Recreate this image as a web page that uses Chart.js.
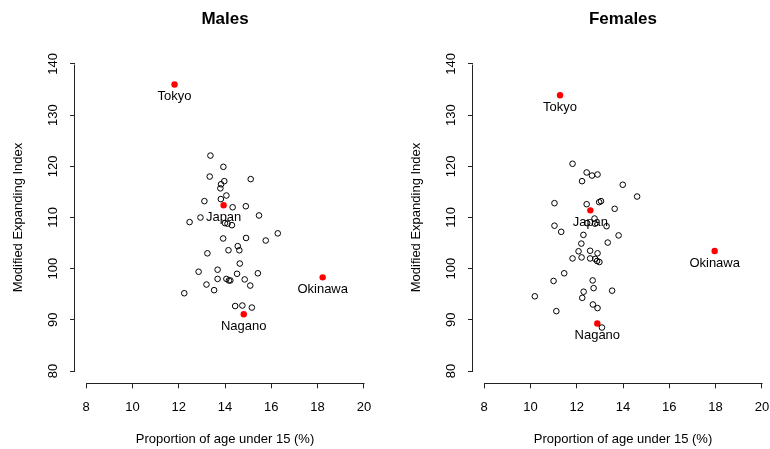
<!DOCTYPE html>
<html><head><meta charset="utf-8">
<script src="https://cdn.jsdelivr.net/npm/chart.js@4"></script>
<style>
html,body{margin:0;padding:0;background:#fff;overflow:hidden;width:770px;height:449px;position:relative}
#m{position:absolute;left:0;top:0}
#f{position:absolute;left:398px;top:0}
</style></head><body>
<canvas id="m" width="385" height="449"></canvas>
<canvas id="f" width="385" height="449"></canvas>
<script>
const xTicks=[8,10,12,14,16,18,20];
const yTicks=[80,90,100,110,120,130,140];
const xTitle='Proportion of age under 15 (%)';
const yTitle='Modified Expanding Index';

const maleX=[13.37,13.93,13.34,15.11,13.97,13.83,13.80,14.06,13.82,13.11,14.33,14.90,15.47,12.94,12.47,14.00,14.11,14.30,16.28,13.92,14.91,15.76,14.55,14.15,14.62,13.24,14.64,12.86,13.68,14.52,15.42,13.68,14.06,14.17,14.23,14.85,13.20,15.09,13.53,12.24,14.44,14.75,15.16];
const maleY=[122.1,119.9,118.0,117.5,117.1,116.5,115.7,114.3,113.6,113.2,112.0,112.2,110.4,110.0,109.1,108.9,108.8,108.5,106.9,105.9,106.0,105.5,104.4,103.6,103.6,103.0,101.0,99.4,99.8,99.0,99.1,98.0,98.0,97.7,97.7,97.9,96.9,96.7,95.8,95.2,92.7,92.8,92.4];
const maleNames=['Tokyo','Japan','Okinawa','Nagano'];
const maleHX=[11.82,13.94,18.22,14.81];
const maleHY=[136.0,112.4,98.3,91.1];

const femaleX=[11.82,12.43,12.66,12.90,12.23,13.99,14.61,11.04,12.43,12.97,13.05,13.64,12.77,12.79,12.45,13.29,11.04,11.33,12.29,13.81,12.20,13.34,12.08,12.58,12.90,11.82,12.21,12.58,12.80,12.88,12.98,11.46,11.00,12.69,12.30,12.73,13.53,12.24,10.19,12.70,12.90,11.12,13.09];
const femaleY=[120.5,118.8,118.2,118.4,117.1,116.4,114.1,112.8,112.6,113.0,113.2,111.7,109.8,108.8,108.9,108.3,108.4,107.2,106.6,106.5,104.9,105.1,103.4,103.5,103.0,102.0,102.2,102.0,101.9,101.5,101.3,99.1,97.6,97.7,95.5,96.2,95.7,94.3,94.6,93.0,92.3,91.7,88.5];
const femaleNames=['Tokyo','Japan','Okinawa','Nagano'];
const femaleHX=[11.28,12.59,17.96,12.89];
const femaleHY=[133.9,111.4,103.45,89.3];

const FONT='"Liberation Sans", Arial, Helvetica, sans-serif';
const AXC='#222';

const rAxes={id:'rAxes',afterDraw(chart,args,opts){
  const ctx=chart.ctx, xs=chart.scales.x, ys=chart.scales.y, a=chart.chartArea;
  ctx.save();
  ctx.strokeStyle=AXC; ctx.lineWidth=1;
  ctx.beginPath();
  const yb=Math.round(a.bottom)+0.5;
  ctx.moveTo(Math.round(xs.getPixelForValue(xTicks[0]))+0.5,yb);
  ctx.lineTo(Math.round(xs.getPixelForValue(xTicks[xTicks.length-1]))+0.5,yb);
  const xl=Math.round(a.left)-0.5;
  ctx.moveTo(xl,Math.round(ys.getPixelForValue(yTicks[0]))+0.5);
  ctx.lineTo(xl,Math.round(ys.getPixelForValue(yTicks[yTicks.length-1]))+0.5);
  ctx.stroke();
  ctx.fillStyle='#000'; ctx.font='13px '+FONT; ctx.textAlign='center'; ctx.textBaseline='middle';
  const meta=chart.getDatasetMeta(1);
  (opts.names||[]).forEach((n,i)=>{const p=meta.data[i]; ctx.fillText(n,p.x,p.y+12);});
  ctx.restore();
}};

function makeChart(id,title,xs,ys,hx,hy,names){
  const open=xs.map((v,i)=>({x:v,y:ys[i]}));
  const hi=hx.map((v,i)=>({x:v,y:hy[i]}));
  return new Chart(document.getElementById(id),{
    type:'scatter',
    data:{datasets:[
      {data:open,pointRadius:2.8,pointHoverRadius:2.8,borderWidth:1,pointBorderColor:'#000',pointBackgroundColor:'rgba(0,0,0,0)',borderColor:'#000',backgroundColor:'rgba(0,0,0,0)'},
      {data:hi,pointRadius:3.2,pointHoverRadius:3.2,borderWidth:0,pointBorderColor:'#f00',pointBackgroundColor:'#f00',borderColor:'#f00',backgroundColor:'#f00'}
    ]},
    options:{
      responsive:false,animation:false,devicePixelRatio:1,
      layout:{padding:{left:0,right:10,top:0,bottom:0}},
      plugins:{
        legend:{display:false},tooltip:{enabled:false},
        title:{display:true,text:title,fullSize:false,color:'#000',font:{family:FONT,size:17,weight:'bold',lineHeight:1.2},padding:{top:9,bottom:22.3}},
        rAxes:{names:names}
      },
      scales:{
        x:{type:'linear',min:7.52,max:20.48,
          afterBuildTicks:s=>{s.ticks=xTicks.map(v=>({value:v}));},
          afterFit:s=>{s.height=449-383.3;},
          border:{display:false},
          grid:{drawOnChartArea:false,drawTicks:true,tickLength:5,color:AXC,lineWidth:1},
          ticks:{autoSkip:false,maxRotation:0,minRotation:0,padding:11,color:'#000',font:{family:FONT,size:13},callback:v=>String(v)},
          title:{display:true,text:xTitle,color:'#000',font:{family:FONT,size:13},padding:{top:0,bottom:2}}
        },
        y:{type:'linear',min:77.6,max:142.4,
          afterBuildTicks:s=>{s.ticks=yTicks.map(v=>({value:v}));},
          afterFit:s=>{s.width=75;},
          border:{display:false},
          grid:{drawOnChartArea:false,drawTicks:true,tickLength:5,color:AXC,lineWidth:1},
          ticks:{autoSkip:false,minRotation:90,maxRotation:90,crossAlign:'center',padding:6,color:'#000',font:{family:FONT,size:13},callback:v=>String(v)},
          title:{display:true,text:yTitle,color:'#000',font:{family:FONT,size:13},padding:{top:11,bottom:0}}
        }
      }
    },
    plugins:[rAxes]
  });
}
makeChart('m','Males',maleX,maleY,maleHX,maleHY,maleNames);
makeChart('f','Females',femaleX,femaleY,femaleHX,femaleHY,femaleNames);
</script>
</body></html>
